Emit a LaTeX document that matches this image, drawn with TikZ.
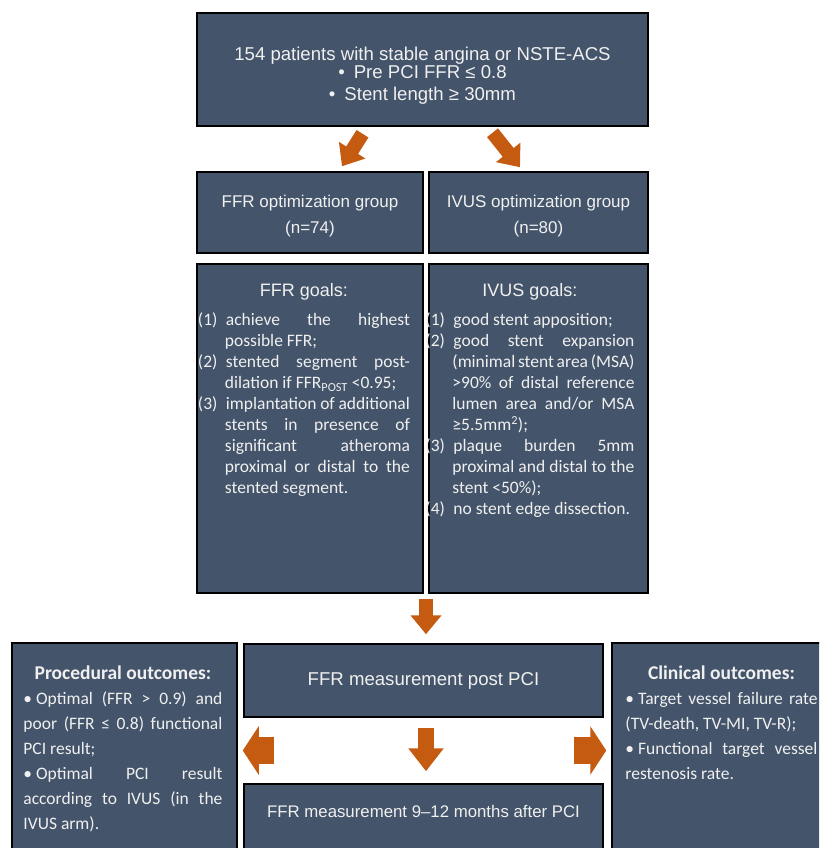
\documentclass[tikz,border=0pt]{standalone}
\usepackage{fontspec}
\setmainfont{Liberation Sans}
\newfontfamily\calfont{Carlito}
\usetikzlibrary{arrows.meta,calc}
\definecolor{panelblue}{HTML}{44546A}
\definecolor{arroworange}{HTML}{C55A11}
\definecolor{paneltext}{HTML}{F0F0F0}
\newcommand{\goalitem}[2]{\par\hangindent=27pt\hangafter=1\noindent\makebox[28pt][l]{#1}#2\par}
\tikzset{
    panel/.style={draw=black,line width=1.5pt,fill=panelblue,inner sep=0pt},
    paneltxt/.style={text=paneltext,inner sep=0pt,align=center},
    goaltxt/.style={text=paneltext,inner sep=0pt,align=justify,font=\calfont\fontsize{17.5}{21}\selectfont},
    outtxt/.style={text=paneltext,inner sep=0pt,align=justify,font=\calfont\fontsize{17.5}{25}\selectfont},
    fatarrow/.style n args={3}{draw=arroworange,line width=#1,-{Triangle[width=#2,length=#3]}}
}
\begin{document}
\begin{tikzpicture}[x=1pt,y=-1pt]
        \useasboundingbox(0,0)rectangle(819,848);
        \clip(0,0)rectangle(819,848);
        % Inclusion
        \node[panel,minimum width=451pt,minimum height=113pt](top)at(422.5,69.5){};
        \node[paneltxt,font=\fontsize{18.6}{22}\selectfont](toptxt)at(422.5,76){154 patients with stable angina or NSTE-ACS\\[-4pt]•\hspace{9pt}Pre PCI FFR ≤ 0.8\\•\hspace{9pt}Stent length ≥ 30mm};
        % Randomised groups
        \node[panel,minimum width=226pt,minimum height=81pt](ffrgroup)at(310,212.5){};
        \node[panel,minimum width=219pt,minimum height=81pt](ivusgroup)at(538.5,212.5){};
        \node[paneltxt,font=\fontsize{17}{26}\selectfont](ffrgrouptxt)at($(ffrgroup)+(0,4)$){FFR optimization group\\(n=74)};
        \node[paneltxt,font=\fontsize{17}{26}\selectfont](ivusgrouptxt)at($(ivusgroup)+(0,4)$){IVUS optimization group\\(n=80)};
        % Optimization goals
        \node[panel,minimum width=226pt,minimum height=329pt](ffrgoals)at(310,428.5){};
        \node[panel,minimum width=219pt,minimum height=329pt](ivusgoals)at(538.5,428.5){};
        \node[goaltxt,text width=212pt,anchor=north west](ffrgoalstxt)at($(ffrgoals.north west)+(1.5,20)$){%
            {\centering\rmfamily\fontsize{18}{21}\selectfont FFR goals:\par}\vspace{8pt}%
            \goalitem{(1)}{achieve the highest\linebreak possible FFR;}%
            \goalitem{(2)}{stented segment post-\linebreak dilation if FFR\textsubscript{POST} <0.95;}%
            \goalitem{(3)}{implantation of additional\linebreak stents in presence of\linebreak significant atheroma\linebreak proximal or distal to the\linebreak stented segment.}};
        \node[goaltxt,text width=209pt,anchor=north west](ivusgoalstxt)at($(ivusgoals.north west)+(-3,20)$){%
            {\centering\rmfamily\fontsize{18}{21}\selectfont IVUS goals:\par}\vspace{8pt}%
            \goalitem{(1)}{good stent apposition;}%
            \goalitem{(2)}{good stent expansion\linebreak (minimal stent area (MSA)\linebreak >90\% of distal reference\linebreak lumen area and/or MSA\linebreak ≥5.5mm\textsuperscript{2});}%
            \goalitem{(3)}{plaque burden 5mm\linebreak proximal and distal to the\linebreak stent <50\%);}%
            \goalitem{(4)}{no stent edge dissection.}};
        % Follow-up
        \node[panel,minimum width=359pt,minimum height=73pt,text=paneltext,font=\fontsize{18.6}{22}\selectfont](post)at(423.5,680.5){FFR measurement post PCI};
        \node[panel,minimum width=359pt,minimum height=100pt](nine)at(423.5,834){};
        \node[paneltxt,font=\fontsize{16.8}{20}\selectfont](ninetxt)at($(nine.north)+(0,28)$){FFR measurement 9–12 months after PCI};
        % Outcomes
        \node[panel,minimum width=225pt,minimum height=237pt](proc)at(124.5,761.5){};
        \node[panel,minimum width=220pt,minimum height=237pt](clin)at(722,761.5){};
        \node[outtxt,text width=199pt,anchor=north west](proctxt)at($(proc.north west)+(12,23)$){%
            {\centering\bfseries\fontsize{19.5}{25}\selectfont Procedural outcomes:\par}%
            \noindent•\hspace{4pt}Optimal (FFR > 0.9) and\linebreak poor (FFR ≤ 0.8) functional\linebreak PCI result;\par
            \noindent•\hspace{4pt}Optimal PCI result\linebreak according to IVUS (in the\linebreak IVUS arm).\par};
        \node[outtxt,text width=192pt,anchor=north west](clintxt)at($(clin.north west)+(14,23)$){%
            {\centering\bfseries\fontsize{19.5}{25}\selectfont Clinical outcomes:\par}%
            \noindent•\hspace{4pt}Target vessel failure rate\linebreak (TV-death, TV-MI, TV-R);\par
            \noindent•\hspace{4pt}Functional target vessel\linebreak restenosis rate.\par};
        % Arrows
        \coordinate(gap)at($(ffrgoals.south east)!0.5!(ivusgoals.south west)$);
        \coordinate(split)at($(post.south)!0.5!(nine.north)$);
        \draw[fatarrow={14pt}{30pt}{19pt}]($(top.south)+(-60,7)$)--($(ffrgroup.north)+(32,-5)$);
        \draw[fatarrow={14pt}{30pt}{19pt}]($(top.south)+(70,6)$)--($(ivusgroup.north)+(-18.5,-4)$);
        \draw[fatarrow={14pt}{30pt}{19pt}]($(gap)+(0,5)$)--($(gap|-post.north)+(0,-9)$);
        \draw[fatarrow={16pt}{34pt}{23pt}]($(gap|-post.south)+(0,10)$)--($(gap|-nine.north)+(0,-12)$);
        \draw[fatarrow={27pt}{48pt}{16pt}]($(split-|post.west)+(31,0)$)--($(split-|proc.east)+(5,0)$);
        \draw[fatarrow={27pt}{48pt}{16pt}]($(split-|post.east)+(-30,0)$)--($(split-|clin.west)+(-5,0)$);
\end{tikzpicture}
\end{document}
